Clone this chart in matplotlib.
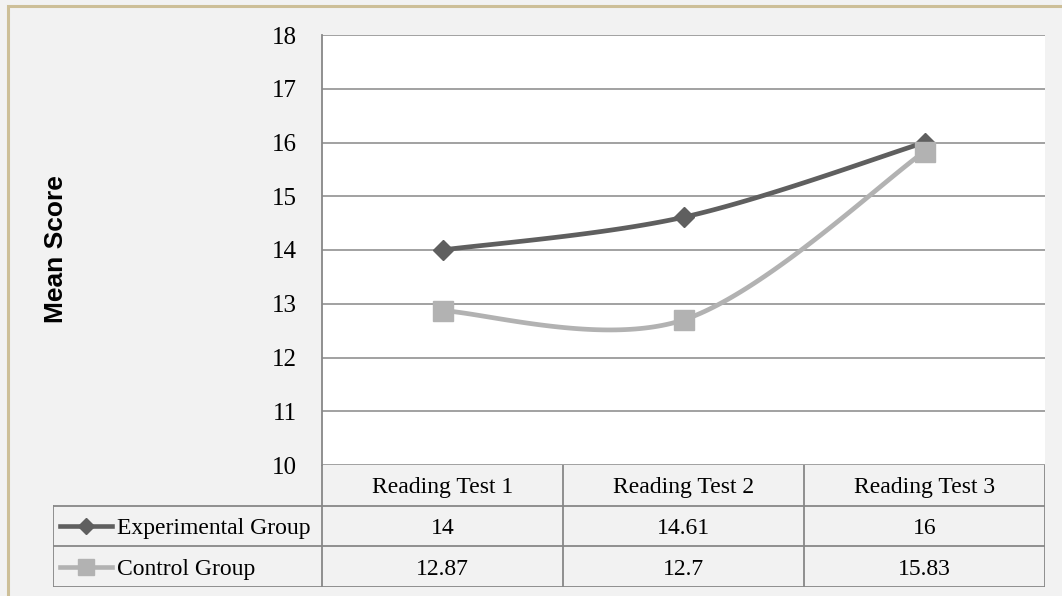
import numpy as np
import matplotlib
matplotlib.use("Agg")
import matplotlib.pyplot as plt
from matplotlib.patches import Rectangle

# ---- data ----
tests = ["Reading Test 1", "Reading Test 2", "Reading Test 3"]
series_names = ["Experimental Group", "Control Group"]
experimental = [14, 14.61, 16]
control = [12.87, 12.7, 15.83]
table_labels_exp = ["14", "14.61", "16"]
table_labels_ctrl = ["12.87", "12.7", "15.83"]
y_ticks = [10, 11, 12, 13, 14, 15, 16, 17, 18]

# ---- styling ----
W, H, DPI = 1062, 596, 100
BG = "#F2F2F2"
GRID = "#878787"
EXP_COLOR = "#5F5F5F"
CTRL_COLOR = "#B2B2B2"
BORDER = "#CDBF98"
SERIF = ["Liberation Serif", "DejaVu Serif"]
SANS = ["Liberation Sans", "DejaVu Sans"]


def smooth(xs, ys, n=60):
    """Cubic Bezier smoothing through the points (Catmull-Rom style)."""
    p = np.column_stack([xs, ys]).astype(float)
    pts = np.vstack([p[0], p, p[-1]])
    out = []
    for i in range(1, len(pts) - 2):
        p0, p1, p2, p3 = pts[i - 1], pts[i], pts[i + 1], pts[i + 2]
        c1 = p1 + (p2 - p0) / 6.0
        c2 = p2 - (p3 - p1) / 6.0
        t = np.linspace(0, 1, n)[:, None]
        seg = ((1 - t) ** 3) * p1 + 3 * ((1 - t) ** 2) * t * c1 \
            + 3 * (1 - t) * t ** 2 * c2 + t ** 3 * p2
        out.append(seg if i == 1 else seg[1:])
    s = np.vstack(out)
    return s[:, 0], s[:, 1]


fig = plt.figure(figsize=(W / DPI, H / DPI), dpi=DPI, facecolor=BG)

# outer chart border (top and left edges visible)
fig.patches.append(Rectangle((7.5 / W, -0.1), 1.2, 1 - 5.5 / H + 0.1,
                             transform=fig.transFigure, fill=False,
                             edgecolor=BORDER, linewidth=2.2, zorder=0))

# ---- plot area ----
px_left, px_right, px_top, px_bottom = 322, 1045, 35, 465
ax = fig.add_axes([px_left / W, 1 - px_bottom / H,
                   (px_right - px_left) / W, (px_bottom - px_top) / H])
ax.set_facecolor("white")
x = np.arange(len(tests))
ax.set_xlim(-0.5, len(tests) - 0.5)
ax.set_ylim(y_ticks[0], y_ticks[-1])
ax.set_yticks(y_ticks)
ax.set_yticklabels([str(v) for v in y_ticks], family=SERIF, fontsize=18)
ax.set_xticks([])
ax.tick_params(axis="y", length=0, pad=18)
for side in ["top", "right", "bottom"]:
    ax.spines[side].set_visible(False)
ax.spines["left"].set_color(GRID)
ax.spines["left"].set_linewidth(1.3)
ax.grid(axis="y", color=GRID, linewidth=1.1)
ax.set_axisbelow(True)

sx, sy = smooth(x, experimental)
ax.plot(sx, sy, color=EXP_COLOR, linewidth=3.4, solid_capstyle="round", zorder=3)
ax.plot(x, experimental, linestyle="none", marker="D", markersize=10.5,
        color=EXP_COLOR, zorder=4)
sx, sy = smooth(x, control)
ax.plot(sx, sy, color=CTRL_COLOR, linewidth=3.4, solid_capstyle="round", zorder=5)
ax.plot(x, control, linestyle="none", marker="s", markersize=14,
        color=CTRL_COLOR, zorder=6)

fig.text(56 / W, 1 - 249 / H, "Mean Score", rotation=90, ha="center",
         va="center", family=SANS, fontweight="bold", fontsize=19)

# ---- data table ----
tb_left, tb_bottom = 53, 587
colw = (px_right - px_left) / len(tests)
x_left_cat = -0.5 - (px_left - tb_left) / colw
tax = fig.add_axes([tb_left / W, 1 - tb_bottom / H,
                    (px_right - tb_left) / W, (tb_bottom - px_bottom) / H])
tax.set_xlim(x_left_cat, len(tests) - 0.5)
tax.set_ylim(0, 3)
tax.axis("off")
tax.patch.set_visible(False)

lkw = dict(color=GRID, linewidth=1.3, solid_capstyle="projecting")
for yy in [0, 1, 2]:
    tax.plot([x_left_cat, len(tests) - 0.5], [yy, yy], **lkw)
tax.plot([x_left_cat, x_left_cat], [0, 2], **lkw)
for xx in np.arange(len(tests) + 1) - 0.5:
    tax.plot([xx, xx], [0, 3], **lkw)

tkw = dict(va="center_baseline", family=SERIF, fontsize=17)
for i, name in enumerate(tests):
    tax.text(i, 2.5, name, ha="center", **tkw)
    tax.text(i, 1.5, table_labels_exp[i], ha="center", **tkw)
    tax.text(i, 0.5, table_labels_ctrl[i], ha="center", **tkw)

# legend keys inside the row headers
key_x0 = -0.5 + (60 - px_left) / colw
key_x1 = -0.5 + (112 - px_left) / colw
key_xm = (key_x0 + key_x1) / 2
txt_x = -0.5 + (117 - px_left) / colw
rows = [(1.5, EXP_COLOR, "D", 8, series_names[0]),
        (0.5, CTRL_COLOR, "s", 11, series_names[1])]
for yy, col, mk, ms, label in rows:
    tax.plot([key_x0, key_x1], [yy, yy], color=col, linewidth=3.3)
    tax.plot([key_xm], [yy], marker=mk, markersize=ms, color=col,
             linestyle="none")
    tax.text(txt_x, yy, label, ha="left", **tkw)

fig.savefig("out.png", dpi=DPI, facecolor=BG)
